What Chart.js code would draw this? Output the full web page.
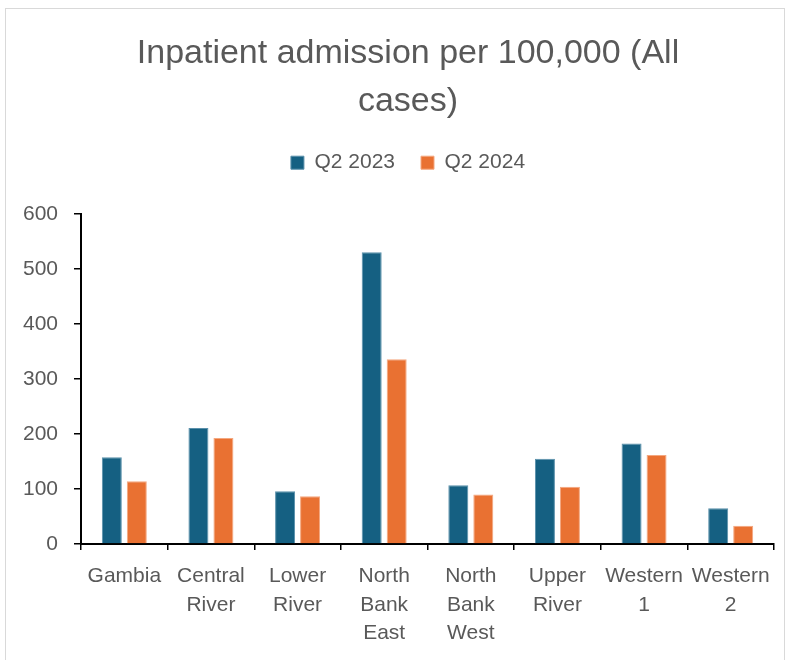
<!DOCTYPE html>
<html>
<head>
<meta charset="utf-8">
<script src="https://cdn.jsdelivr.net/npm/chart.js@4/dist/chart.umd.min.js"></script>
<style>
    html, body { margin: 0; padding: 0; background: #fff; }
    #wrap { position: relative; width: 793px; height: 660px; overflow: hidden; }
    #frame { position: absolute; left: 5px; top: 8px; width: 780px; height: 700px; border: 1px solid #d9d9d9; box-sizing: border-box; }
    #chart { position: absolute; left: 0; top: 0; }
</style>
</head>
<body>
<div id="wrap">
    <div id="frame"></div>
    <canvas id="chart" width="793" height="660"></canvas>
</div>
<script>
// Regions (multi-line labels as drawn under the axis)
const regions = [
    ['Gambia'],
    ['Central', 'River'],
    ['Lower', 'River'],
    ['North', 'Bank', 'East'],
    ['North', 'Bank', 'West'],
    ['Upper', 'River'],
    ['Western', '1'],
    ['Western', '2']
];

// Inpatient admissions per 100,000
const q2_2023 = [158, 211, 96, 531, 107, 155, 183, 65];
const q2_2024 = [114, 193, 87, 336, 90, 104, 162, 33];

const yTicks = [0, 100, 200, 300, 400, 500, 600];

const colors = {
    blue: '#156082',
    blueEdge: '#5a90ab',
    orange: '#E97132',
    orangeEdge: '#f4a77f',
    text: '#595959',
    axis: '#000000'
};

const fontFamily = "'Liberation Sans', Arial, sans-serif";

// Title and legend are centred over the whole frame rather than the canvas
const headerShift = {
    id: 'headerShift',
    afterLayout(chart) {
        [chart.titleBlock, chart.legend].forEach(box => {
            if (!box) return;
            box.left += 21;
            box.right += 21;
        });
    }
};

const ctx = document.getElementById('chart').getContext('2d');
new Chart(ctx, {
    type: 'bar',
    data: {
        labels: regions,
        datasets: [{
            label: 'Q2 2023',
            data: q2_2023,
            backgroundColor: colors.blue,
            borderColor: colors.blueEdge,
            borderWidth: 1,
            categoryPercentage: 0.577,
            barPercentage: 0.8
        }, {
            label: 'Q2 2024',
            data: q2_2024,
            backgroundColor: colors.orange,
            borderColor: colors.orangeEdge,
            borderWidth: 1,
            categoryPercentage: 0.577,
            barPercentage: 0.8
        }]
    },
    plugins: [headerShift],
    options: {
        responsive: false,
        animation: false,
        layout: {
            padding: { left: 0, right: 19, top: 0, bottom: 0 }
        },
        plugins: {
            title: {
                display: true,
                text: ['Inpatient admission per 100,000 (All', 'cases)'],
                color: colors.text,
                font: { family: fontFamily, size: 34, weight: 'normal', lineHeight: 1.4 },
                padding: { top: 30, bottom: 1 }
            },
            legend: {
                display: true,
                position: 'top',
                labels: {
                    color: colors.text,
                    font: { family: fontFamily, size: 21 },
                    boxWidth: 13,
                    boxHeight: 13,
                    padding: 26
                }
            },
            // blank strip between the legend and the plot
            subtitle: {
                display: true,
                text: ' ',
                weight: 500,
                font: { size: 1, lineHeight: 1 },
                padding: { top: 15, bottom: 15 }
            },
            tooltip: { enabled: false }
        },
        scales: {
            x: {
                afterFit(scale) { scale.height = 116; },
                grid: {
                    display: true,
                    offset: true,
                    drawOnChartArea: false,
                    drawTicks: true,
                    tickLength: 6,
                    color: colors.axis,
                    lineWidth: 1.5
                },
                border: { display: true, color: colors.axis, width: 2 },
                ticks: {
                    color: colors.text,
                    font: { family: fontFamily, size: 21, lineHeight: 1.36 },
                    padding: 12,
                    maxRotation: 0,
                    autoSkip: false
                }
            },
            y: {
                min: 0,
                max: 600,
                afterFit(scale) { scale.width = 81; },
                afterBuildTicks(scale) { scale.ticks = yTicks.map(v => ({ value: v })); },
                grid: {
                    display: true,
                    drawOnChartArea: false,
                    drawTicks: true,
                    tickLength: 7,
                    color: colors.axis,
                    lineWidth: 1.5
                },
                border: { display: true, color: colors.axis, width: 2 },
                ticks: {
                    color: colors.text,
                    font: { family: fontFamily, size: 21 },
                    padding: 16
                }
            }
        }
    }
});
</script>
</body>
</html>
